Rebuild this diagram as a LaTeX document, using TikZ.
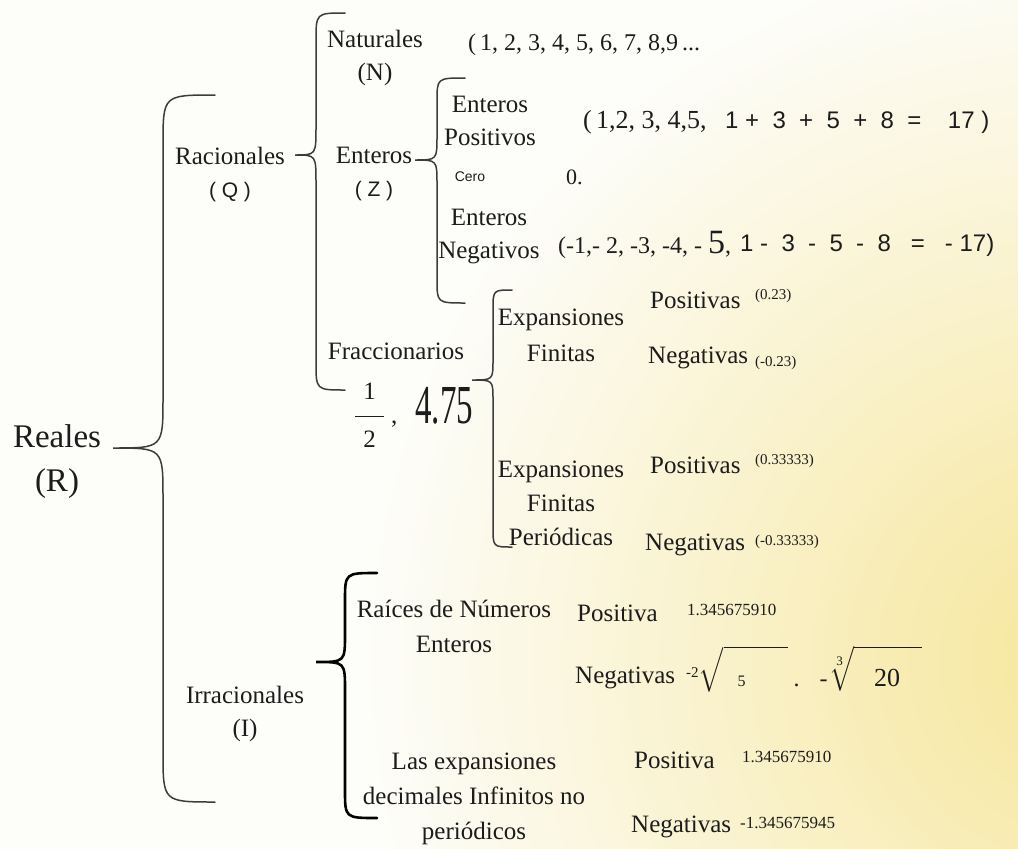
\documentclass[tikz,border=0pt]{standalone}
\usepackage{amsmath}
\usepackage{fontspec}
\setmainfont{Liberation Serif}
\setsansfont{Liberation Sans}
\usetikzlibrary{positioning}
\definecolor{tinta}{RGB}{28, 28, 28}
\definecolor{trazo}{RGB}{60, 60, 60}
\definecolor{fondo}{RGB}{253, 253, 250}
\definecolor{crema}{RGB}{246, 230, 155}
\newcommand{\tam}[2]{\fontsize{#1}{#2}\selectfont}
% curly brace: [style]{x of stem}{top}{tip}{bottom}{x of hooks}{x of tip}{radius}
\newcommand{\llave}[8][]{\draw[llavetrazo, #1] (#6,#3) .. controls (#2,#3) .. (#2,#3+#8) -- (#2,#4-#8) .. controls (#2,#4) .. (#7,#4) .. controls (#2,#4) .. (#2,#4+#8) -- (#2,#5-#8) .. controls (#2,#5) .. (#6,#5);}

\begin{document}
\begin{tikzpicture}[
	x=1pt, y=-1pt,
	% Styles
	etiqueta/.style={font=\tam{25}{33}, text=tinta, align=center, inner sep=0pt},
	grande/.style={font=\tam{33}{44}, text=tinta, align=center, inner sep=0pt},
	serie/.style={font=\tam{24}{24}, text=tinta, anchor=west, inner sep=0pt},
	formula/.style={font=\sffamily\tam{24}{24}, text=tinta, anchor=west, inner sep=0pt},
	signo/.style={font=\tam{25}{25}, text=tinta, anchor=west, inner sep=0pt},
	valor/.style={font=\tam{17}{17}, text=tinta, anchor=west, inner sep=0pt},
	llavetrazo/.style={draw=trazo, line width=1.5pt, line cap=round}
	]
	
	% Background
	\useasboundingbox (0,0) rectangle (1018,849);
	\fill[fondo] (0,0) rectangle (1018,849);
	\begin{scope}
		\clip (0,0) rectangle (1018,849);
		\shade[inner color=crema, outer color=fondo] (1080,660) circle (720);
	\end{scope}
	
	% ==========================================
	% Reales
	% ==========================================
	\node[grande] (reales) at (57,462) {Reales\\(R)};
	\llave{163}{95}{448}{802}{215}{113}{50}
	
	% ==========================================
	% Racionales
	% ==========================================
	\node[etiqueta] (racionales) at (230,174) {Racionales\\{\sffamily\tam{21}{37}( Q )}};
	\llave{316}{13}{155}{390}{345}{295}{28}
	
	% Naturales
	\node[etiqueta] (naturales) at (375,58) {Naturales\\(N)};
	\node[serie] (natserie) at (468,45) {(\,1, 2, 3, 4, 5, 6, 7, 8,9\,...};
	
	% Enteros
	\node[etiqueta] (enteros) at (374,174) {Enteros\\{\sffamily\tam{21}{37}( Z )}};
	\llave{437}{78}{160}{303}{465}{415}{24}
	
	\node[etiqueta] (entpos) at (490,121) {Enteros\\Positivos};
	\node[font=\sffamily\tam{14}{14}, text=tinta, inner sep=0pt] (cero) at (470,177) {Cero};
	\node[etiqueta] (entneg) at (489,237) {Enteros\\Negativos};
	
	\node[serie, font=\tam{26}{26}] (posserie) at (583,122) {(\,1,2, 3, 4,5,};
	\node[formula] (posform) at (725,122) {1 +~~3~~+~~5~~+~~8~~=~~~~17~)};
	\node[signo, font=\tam{22}{22}] (cerovalor) at (566,177) {0.};
	\node[serie] (negserie) at (558,245) {(-1,- 2, -3, -4, - {\tam{34}{34}5},};
	\node[formula] (negform) at (740,245) {1 -~~3~~-~~5~~-~~8~~~=~~~-~17)};
	
	% Fraccionarios
	\node[etiqueta] (fraccionarios) at (396,351) {Fraccionarios};
	\node[signo, anchor=base west] (fracvalor) at (354,423) {$\dfrac{\hspace{8pt}\raisebox{7pt}{\text{\tam{25}{25}1}}\hspace{8pt}}{\raisebox{-7pt}{\text{\tam{25}{25}2}}}$\hspace{6pt},\hspace{18pt}\scalebox{0.6}[1]{\tam{55}{55}4.75}};
	\llave{493}{290}{380}{547}{512}{472}{20}
	
	\node[etiqueta, font=\tam{25}{36}] (expfin) at (561,335) {Expansiones\\Finitas};
	\node[etiqueta, font=\tam{25}{34}] (expper) at (561,503) {Expansiones\\Finitas\\Periódicas};
	
	\node[signo] (pos1) at (650,300) {Positivas};
	\node[valor, font=\tam{15}{15}] (pos1v) at (755,296) {(0.23)};
	\node[signo] (neg1) at (648,358) {Negativas};
	\node[valor, font=\tam{15}{15}] (neg1v) at (755,363) {(-0.23)};
	\node[signo] (pos2) at (650,465) {Positivas};
	\node[valor, font=\tam{15}{15}] (pos2v) at (755,461) {(0.33333)};
	\node[signo] (neg2) at (645,545) {Negativas};
	\node[valor, font=\tam{15}{15}] (neg2v) at (755,542) {(-0.33333)};
	
	% ==========================================
	% Irracionales
	% ==========================================
	\node[etiqueta] (irracionales) at (245,714) {Irracionales\\(I)};
	\llave[draw=black, line width=2.6pt]{345}{573}{662}{818}{377}{316}{28}
	
	\node[etiqueta, font=\tam{25}{35}] (raices) at (454,626) {Raíces de Números\\Enteros};
	\node[etiqueta, font=\tam{25}{35}] (decimales) at (474,799) {Las expansiones\\decimales Infinitos no\\periódicos};
	
	\node[signo] (pos3) at (577,613) {Positiva};
	\node[valor] (pos3v) at (687,610) {1.345675910};
	\node[signo] (neg3) at (575,678) {Negativas};
	\node[signo, font=\tam{24}{24}, anchor=base west] (neg3v) at (686,686) {\raisebox{9pt}{\tam{15}{15}-2}$\sqrt{\rule{0pt}{31pt}\hspace{14pt}\text{\tam{16}{16}5}\hspace{42pt}}$\hspace{6pt}.\hspace{20pt}-\hspace{2pt}$\sqrt[\text{\tam{13}{13}3}]{\rule{0pt}{32pt}\hspace{20pt}\text{\tam{26}{26}20}\hspace{22pt}}$};
	\node[signo] (pos4) at (634,760) {Positiva};
	\node[valor] (pos4v) at (742,757) {1.345675910};
	\node[signo] (neg4) at (631,827) {Negativas};
	\node[valor] (neg4v) at (740,823) {-1.345675945};
	
\end{tikzpicture}
\end{document}
